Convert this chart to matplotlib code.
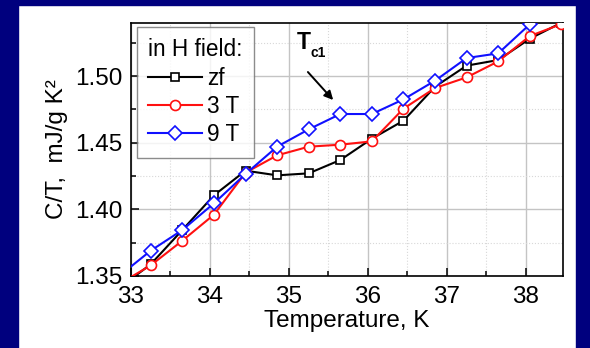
import matplotlib
matplotlib.use("Agg")
import matplotlib.pyplot as plt
from matplotlib.patches import Rectangle
from matplotlib.ticker import MultipleLocator, FormatStrFormatter

plt.rcParams['font.family'] = ['Liberation Sans', 'DejaVu Sans']

# Data (temperature in K, C/T in mJ/g K^2)
temps = [32.85, 33.25, 33.65, 34.05, 34.45, 34.85, 35.25, 35.65, 36.05, 36.45, 36.85, 37.25, 37.65, 38.05, 38.45]
ct_zf = [1.341, 1.3588, 1.3845, 1.4105, 1.429, 1.4255, 1.427, 1.437, 1.453, 1.4665, 1.492, 1.5078, 1.512, 1.528, 1.540]
ct_3T = [1.344, 1.358, 1.3765, 1.396, 1.4275, 1.4405, 1.447, 1.4485, 1.451, 1.4755, 1.491, 1.499, 1.511, 1.530, 1.539]
ct_9T = [1.350, 1.369, 1.3845, 1.4045, 1.4265, 1.447, 1.460, 1.4715, 1.4715, 1.4825, 1.4965, 1.5135, 1.517, 1.5388, 1.552]

series_labels = ["zf", "3 T", "9 T"]
legend_title = "in H field:"
x_label = "Temperature, K"
y_label = "C/T,  mJ/g K²"

W, H = 590, 348
fig = plt.figure(figsize=(W / 100, H / 100), dpi=100, facecolor="white")

navy = "#00007e"
fig.patches.append(Rectangle((0, 0), 18 / W, 1, transform=fig.transFigure, color=navy, zorder=-10))
fig.patches.append(Rectangle((576 / W, 0), 1, 1, transform=fig.transFigure, color=navy, zorder=-10))
fig.patches.append(Rectangle((0, 1 - 4.5 / H), 1, 1, transform=fig.transFigure, color=navy, zorder=-10))

ax = fig.add_axes([131 / W, 1 - 276 / H, (563 - 131) / W, (276 - 22.7) / H])

ax.plot(temps, ct_zf, color="black", lw=1.5, marker="s", ms=5.8, mfc="white", mec="black", mew=1.2, label=series_labels[0], zorder=3)
ax.plot(temps, ct_3T, color="#ff1010", lw=1.5, marker="o", ms=7.2, mfc="white", mec="#ff1010", mew=1.2, label=series_labels[1], zorder=4)
ax.plot(temps, ct_9T, color="#1010ff", lw=1.5, marker="D", ms=7.0, mfc="white", mec="#1010ff", mew=1.2, label=series_labels[2], zorder=5)

ax.set_xlim(33, 38.47)
ax.set_ylim(1.35, 1.54)
ax.xaxis.set_major_locator(MultipleLocator(1))
ax.xaxis.set_minor_locator(MultipleLocator(0.5))
ax.yaxis.set_major_locator(MultipleLocator(0.05))
ax.yaxis.set_minor_locator(MultipleLocator(0.025))
ax.yaxis.set_major_formatter(FormatStrFormatter("%.2f"))

ax.grid(which="major", color="#c4c4c4", lw=1.0, ls="-", zorder=0)
ax.grid(which="minor", color="#d8d8d8", lw=0.8, ls=":", zorder=0)
ax.set_axisbelow(True)

ax.tick_params(which="both", direction="in", top=False, right=False, labelsize=17.5, width=1.1, colors="black")
ax.tick_params(which="major", length=6)
ax.tick_params(which="minor", length=3.5)
ax.tick_params(axis="x", which="major", pad=7.5)
ax.tick_params(axis="y", which="major", pad=6)
for s in ax.spines.values():
    s.set_linewidth(1.2)
    s.set_color("black")

ax.set_xlabel(x_label, fontsize=17.5, labelpad=1.5)
ax.set_ylabel(y_label, fontsize=17.5, labelpad=5)

leg = ax.legend(title=legend_title, loc="upper left", bbox_to_anchor=(0.0132, 0.984), fontsize=16.3,
                title_fontsize=16.3, frameon=True, fancybox=False, edgecolor="#707070",
                handlelength=2.4, handletextpad=0.22, labelspacing=0.24, borderpad=0.5,
                borderaxespad=0.0)
leg.get_frame().set_linewidth(1.0)
leg._legend_box.align = "left"

ax.text(35.10, 1.5205, "T", fontsize=16.5, fontweight="bold", ha="left", va="baseline")
ax.text(35.27, 1.5140, "c1", fontsize=10, fontweight="bold", ha="left", va="baseline")
ax.annotate("", xy=(35.56, 1.482), xytext=(35.24, 1.503),
            arrowprops=dict(arrowstyle="-|>", color="black", lw=1.4, mutation_scale=13,
                            shrinkA=0, shrinkB=0))

fig.savefig("out.png", dpi=100, facecolor="white")
